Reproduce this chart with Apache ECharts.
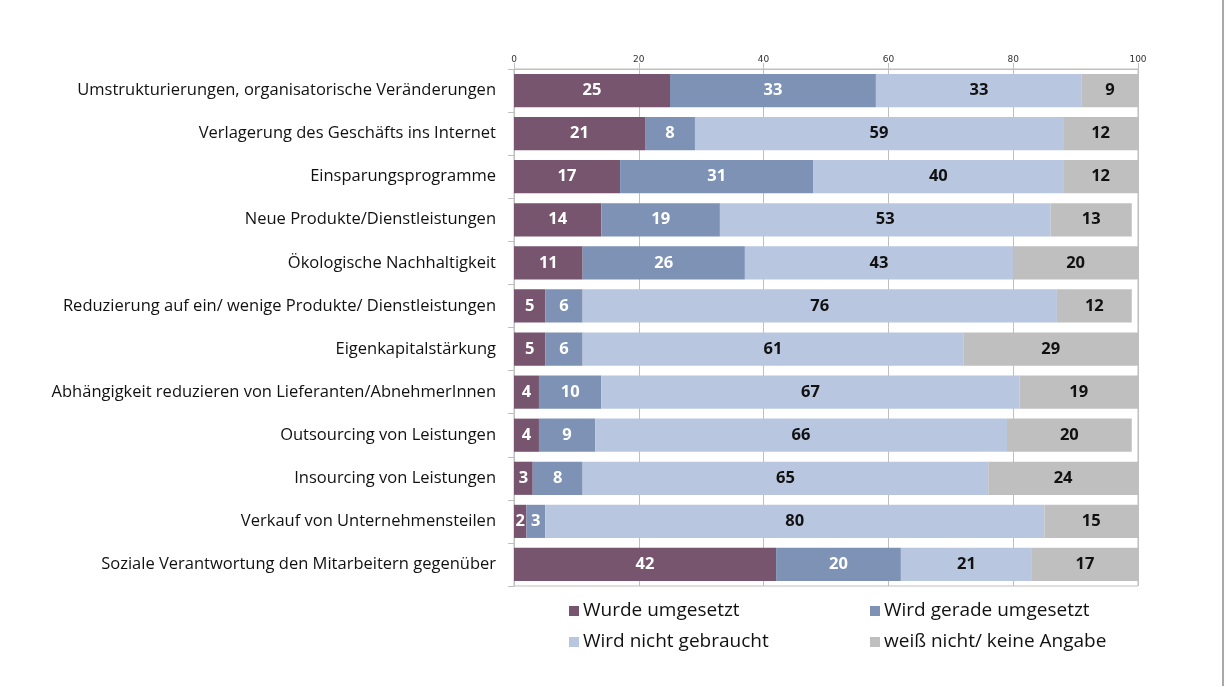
<!DOCTYPE html>
<html>
<head>
<meta charset="utf-8">
<script src="https://cdn.jsdelivr.net/npm/echarts@6/dist/echarts.min.js"></script>
<style>
html,body{margin:0;padding:0;background:#fff;}
#main{width:1231px;height:687px;}
#edge{position:absolute;left:1222px;top:0;width:2px;height:686px;background:#aaa6aa;}
</style>
</head>
<body>
<div id="main"></div>
<div id="edge"></div>
<script>
const categories = [
  "Umstrukturierungen, organisatorische Veränderungen",
  "Verlagerung des Geschäfts ins Internet",
  "Einsparungsprogramme",
  "Neue Produkte/Dienstleistungen",
  "Ökologische Nachhaltigkeit",
  "Reduzierung auf ein/ wenige Produkte/ Dienstleistungen",
  "Eigenkapitalstärkung",
  "Abhängigkeit reduzieren von Lieferanten/AbnehmerInnen",
  "Outsourcing von Leistungen",
  "Insourcing von Leistungen",
  "Verkauf von Unternehmensteilen",
  "Soziale Verantwortung den Mitarbeitern gegenüber"
];
const seriesNames = ["Wurde umgesetzt", "Wird gerade umgesetzt", "Wird nicht gebraucht", "weiß nicht/ keine Angabe"];
const wurdeUmgesetzt   = [25, 21, 17, 14, 11, 5, 5, 4, 4, 3, 2, 42];
const wirdGerade       = [33, 8, 31, 19, 26, 6, 6, 10, 9, 8, 3, 20];
const wirdNichtGebraucht = [33, 59, 40, 53, 43, 76, 61, 67, 66, 65, 80, 21];
const weissNicht       = [9, 12, 12, 13, 20, 12, 29, 19, 20, 24, 15, 17];
const xTicks = [0, 20, 40, 60, 80, 100];

const colors = ["#77556f", "#7e92b5", "#b8c7df", "#bfbfbf"];
const labelColors = ["#ffffff", "#ffffff", "#111111", "#111111"];
const allData = [wurdeUmgesetzt, wirdGerade, wirdNichtGebraucht, weissNicht];
const FONT = "Open Sans";

const chart = echarts.init(document.getElementById('main'));
const option = {
  backgroundColor: '#ffffff',
  animation: false,
  textStyle: { fontFamily: FONT },
  grid: { left: 514, right: 93, top: 69, bottom: 101, show: true, borderColor: '#bfbfbf', borderWidth: 1, containLabel: false },
  legend: [
    { data: [seriesNames[0], seriesNames[2]], orient: 'vertical', left: 564, top: 595, itemWidth: 10, itemHeight: 10, itemGap: 9,
      icon: 'rect', textStyle: { fontFamily: FONT, fontSize: 19, color: '#111', lineHeight: 22, padding: [0, 0, 0, -1] } },
    { data: [seriesNames[1], seriesNames[3]], orient: 'vertical', left: 865, top: 595, itemWidth: 10, itemHeight: 10, itemGap: 9,
      icon: 'rect', textStyle: { fontFamily: FONT, fontSize: 19, color: '#111', lineHeight: 22, padding: [0, 0, 0, -1] } }
  ],
  xAxis: {
    type: 'value', position: 'top', min: 0, max: 100, interval: 20,
    axisLine: { show: true, lineStyle: { color: '#bfbfbf' } },
    axisTick: { show: true, length: 6, lineStyle: { color: '#bfbfbf' } },
    axisLabel: { fontSize: 9, color: '#333', margin: 5, fontFamily: 'DejaVu Sans',
      formatter: v => xTicks.indexOf(v) >= 0 ? String(v) : '' },
    splitLine: { show: true, lineStyle: { color: '#bfbfbf' } }
  },
  yAxis: {
    type: 'category', inverse: true, data: categories,
    axisLine: { show: true, lineStyle: { color: '#bfbfbf' } },
    axisTick: { show: true, length: 6, lineStyle: { color: '#bfbfbf' } },
    axisLabel: { fontSize: 16.5, color: '#111', margin: 18, fontFamily: FONT }
  },
  series: allData.map((d, i) => ({
    name: seriesNames[i], type: 'bar', stack: 'total', data: d,
    barCategoryGap: '23%',
    itemStyle: { color: colors[i] },
    label: { show: true, position: 'inside', color: labelColors[i], fontSize: 16.5, fontWeight: 'bold', fontFamily: FONT },
    emphasis: { disabled: true }
  }))
};
chart.setOption(option);
</script>
</body>
</html>
